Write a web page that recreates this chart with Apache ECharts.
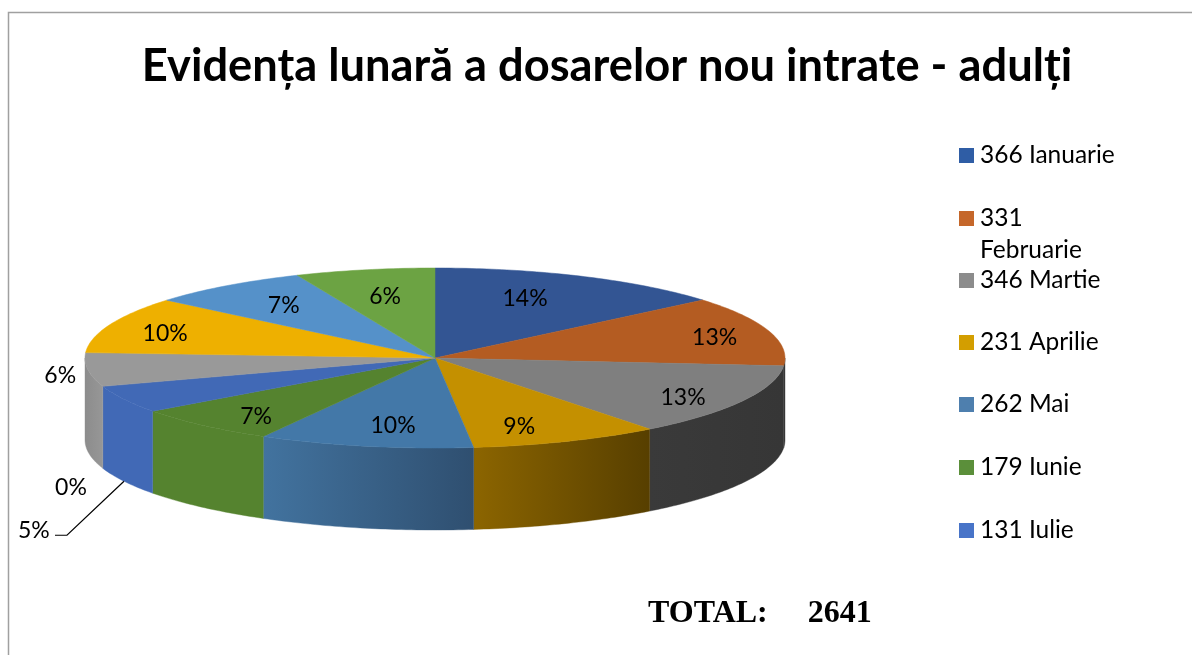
<!DOCTYPE html>
<html>
<head>
<meta charset="utf-8">
<style>html,body{margin:0;padding:0;background:#fff}#c{width:1192px;height:655px}</style>
<script src="https://cdn.jsdelivr.net/npm/echarts@6/dist/echarts.min.js"></script>
</head>
<body>
<div id="c"></div>
<script>
var months = ['Ianuarie','Februarie','Martie','Aprilie','Mai','Iunie','Iulie','August','Septembrie','Octombrie','Noiembrie','Decembrie'];
var values = [366,331,346,231,262,179,131,0,160,268,197,170];
var legendCount = 7;
var titleText = 'Evidența lunară a dosarelor nou intrate - adulți';
var topColors = ['#335593','#B45C22','#7F7F7F','#C49000','#4378A8','#55832F','#4169B6','#33508F','#999999','#EEB000','#5591C9','#6CA343'];
var legendColors = ['#2F5DA5','#C5672A','#8C8C8C','#D39E00','#4E7FAE','#5B8F3A','#4874C8','#33508F','#999999','#EEB000','#5591C9','#6CA343'];
var wallColors = [['#335593','#335593'],['#383838','#383838'],['#3A3A3A','#363636'],['#8C6500','#573F00'],['#42739F','#2F4F70'],['#55832F','#55832F'],['#4169B6','#4169B6'],['#33508F','#33508F'],['#8C8C8C','#979797'],['#EEB000','#EEB000'],['#5591C9','#5591C9'],['#6CA343','#6CA343']];
var labelFactors = [[.61,.73],[.838,.74],[.807,.93],[.64,.82],[.6,.77],[.77,.87],[1.29,4.17],[1.096,4.57],[1.08,1.5],[.83,.74],[.725,.73],[.71,.7]];
var leaderSlice = 6;
var leaderBends = [[-57,54],[-69,54]];

var total = values.reduce(function(a,b){return a+b;},0);
var CX = 435, CY = 358, RX = 350, RY = 90, DEPTH = 82;
function pt(a, dy){ return [CX + RX*Math.sin(a), CY - RY*Math.cos(a) + (dy||0)]; }
function arc(a1, a2, dy){
  var n = Math.max(2, Math.ceil(Math.abs(a2-a1)/0.015)), out = [];
  for (var i=0;i<=n;i++) out.push(pt(a1+(a2-a1)*i/n, dy));
  return out;
}
var TAU = Math.PI*2;

function renderSlice(index){
  return function(params, api){
    var v = api.value(0);
    var before = values.slice(0,index).reduce(function(a,b){return a+b;},0);
    var a1 = before/total*TAU, a2 = (before+v)/total*TAU, mid = (a1+a2)/2;
    var children = [];
    var w1 = Math.max(a1, Math.PI/2), w2 = Math.min(a2, Math.PI*1.5);
    if (w2 > w1 && v > 0){
      var same = wallColors[index][0] === wallColors[index][1];
      var fill = same ? wallColors[index][0] : new echarts.graphic.LinearGradient(0,0,1,0,[
        {offset:0,color:wallColors[index][0]},{offset:1,color:wallColors[index][1]}]);
      children.push({type:'polygon', z2:1, shape:{points:arc(w1,w2,0).concat(arc(w2,w1,DEPTH))},
        style:{fill:fill, stroke:fill, lineWidth:0.4}});
    }
    if (v > 0){
      children.push({type:'polygon', z2:2, shape:{points:[[CX,CY]].concat(arc(a1,a2,0))},
        style:{fill:topColors[index], stroke:topColors[index], lineWidth:0.5}});
    }
    var f = labelFactors[index];
    children.push({type:'text', z2:5, x:CX+RX*Math.sin(mid)*f[0], y:CY-RY*Math.cos(mid)*f[1],
      style:{text:Math.round(v/total*100)+'%', fill:'#000', font:'23px Lato, sans-serif', align:'center', verticalAlign:'middle'}});
    if (index === leaderSlice){
      var p = pt(mid, DEPTH);
      var pts = [p].concat(leaderBends.map(function(b){return [p[0]+b[0], p[1]+b[1]];}));
      children.push({type:'polyline', z2:5, shape:{points:pts}, style:{fill:'none', stroke:'#000', lineWidth:1.2}});
    }
    return {type:'group', children:children};
  };
}

var names = months.map(function(m,i){ return values[i]+' '+m; });
var series = values.map(function(v,i){
  return {type:'custom', name:names[i], coordinateSystem:'none', silent:true, animation:false,
    itemStyle:{color:legendColors[i]}, data:[[v]], renderItem:renderSlice(i)};
});

var legendCentres = [155.5,218.5,280.5,342.5,404.5,467.5,530.5];
var LH = 32;
var legends = legendCentres.slice(0,legendCount).map(function(cy,i){
  var wrap = months[i].length > 8;
  return {orient:'vertical', left:959, top: wrap ? cy-LH*1.5 : cy-LH/2, padding:0, icon:'rect', itemWidth:15, itemHeight:15, itemGap:6,
    selectedMode:false, data:[names[i]],
    formatter:function(n){ return wrap ? '\n'+n.replace(' ','\n') : n; },
    textStyle:{color:'#000', fontSize:24.5, lineHeight:LH, fontFamily:'Lato, sans-serif', padding:[0,0,0,1]}};
});

var chart = echarts.init(document.getElementById('c'), null, {renderer:'canvas'});
chart.setOption({
  animation:false,
  backgroundColor:'#fff',
  title:[
    {text:titleText, left:607, top:44, textAlign:'center', padding:0,
     textStyle:{fontFamily:'Lato, sans-serif', fontWeight:'bold', fontSize:45.25, color:'#000'}},
    {text:'TOTAL:     '+total, left:648, top:598, padding:0,
     textStyle:{fontFamily:'Liberation Serif, serif', fontWeight:'bold', fontSize:32, color:'#000'}}
  ],
  legend:legends,
  series:series,
  graphic:[{type:'polyline', silent:true, shape:{points:[[8.5,655],[8.5,12.5],[1192,12.5]]}, style:{fill:'none', stroke:'#A0A0A0', lineWidth:1.5}}]
});
</script>
</body>
</html>
